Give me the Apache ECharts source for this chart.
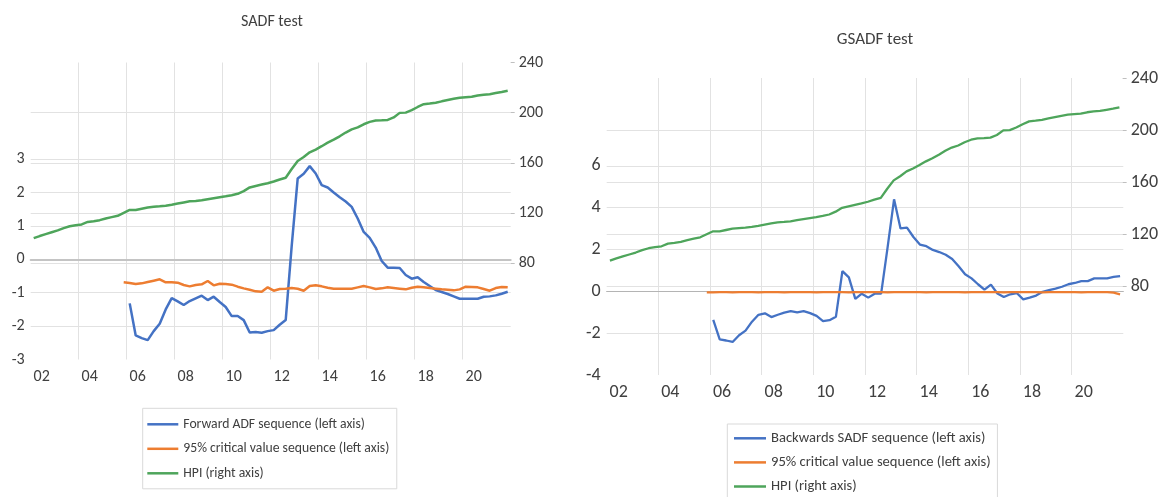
<!DOCTYPE html>
<html>
<head>
<meta charset="utf-8">
<script src="https://cdn.jsdelivr.net/npm/echarts@6/dist/echarts.min.js"></script>
<style>
html,body{margin:0;padding:0;background:#fff;}
#chart{width:1161px;height:497px;}
</style>
</head>
<body>
<div id="chart"></div>
<script>
// ---------- data ----------
const years = [2002,2003,2004,2005,2006,2007,2008,2009,2010,2011,2012,2013,2014,2015,2016,2017,2018,2019,2020,2021];
const quarterNames = ['Q1','Q2','Q3','Q4'];
const xTickLabels = ['02','04','06','08','10','12','14','16','18','20',''];

// HPI (right axis), 2002Q1 - 2021Q4
const hpi = [
  99.8, 101.5, 103.0, 104.5, 106.0, 107.8, 109.3, 110.2, 110.8, 112.8,
  113.4, 114.2, 115.5, 116.6, 117.7, 120.0, 122.3, 122.3, 123.3, 124.3,
  124.8, 125.2, 125.7, 126.5, 127.4, 128.3, 129.2, 129.5, 130.0, 130.9,
  131.7, 132.5, 133.2, 134.1, 135.2, 137.4, 140.3, 141.5, 142.6, 143.7,
  145.0, 146.6, 148.0, 155.0, 161.4, 164.6, 168.3, 170.5, 173.2, 176.0,
  178.4, 181.1, 184.1, 186.6, 188.2, 190.7, 192.6, 193.7, 193.9, 194.2,
  196.2, 199.8, 200.0, 202.0, 204.5, 206.7, 207.2, 207.9, 209.0, 210.0,
  211.0, 211.8, 212.3, 212.6, 213.7, 214.3, 214.7, 215.6, 216.5, 217.5
];
const hpiStart = '2002Q1';

// Forward ADF sequence (SADF test), 2006Q1 - 2021Q4
const forwardADF = [
  -1.32, -2.28, -2.36, -2.42, -2.15, -1.93, -1.50, -1.16, -1.26, -1.37,
  -1.25, -1.17, -1.09, -1.22, -1.12, -1.28, -1.43, -1.70, -1.70, -1.82,
  -2.19, -2.18, -2.20, -2.15, -2.12, -1.96, -1.82, 0.40, 2.42, 2.56,
  2.79, 2.57, 2.22, 2.15, 2.00, 1.86, 1.73, 1.57, 1.22, 0.82,
  0.64, 0.35, -0.05, -0.25, -0.25, -0.26, -0.47, -0.58, -0.54, -0.68,
  -0.80, -0.92, -0.98, -1.04, -1.11, -1.18, -1.18, -1.18, -1.18, -1.12,
  -1.11, -1.08, -1.03, -0.97
];
const forwardADFStart = '2006Q1';

// 95% critical value sequence (SADF test), 2005Q4 - 2021Q4
const cvSADF = [
  -0.69, -0.71, -0.74, -0.72, -0.68, -0.64, -0.60, -0.69, -0.69, -0.70,
  -0.77, -0.81, -0.77, -0.75, -0.65, -0.78, -0.73, -0.74, -0.76, -0.82,
  -0.87, -0.91, -0.96, -0.97, -0.84, -0.94, -0.89, -0.88, -0.86, -0.88,
  -0.94, -0.80, -0.78, -0.81, -0.85, -0.88, -0.88, -0.88, -0.88, -0.84,
  -0.80, -0.84, -0.89, -0.87, -0.84, -0.86, -0.88, -0.90, -0.85, -0.82,
  -0.84, -0.86, -0.88, -0.90, -0.91, -0.93, -0.90, -0.82, -0.83, -0.84,
  -0.89, -0.94, -0.86, -0.83, -0.84
];
const cvSADFStart = '2005Q4';

// Backwards SADF sequence (GSADF test), 2006Q1 - 2021Q4
const backwardSADF = [
  -1.36, -2.30, -2.35, -2.42, -2.10, -1.88, -1.45, -1.12, -1.05, -1.23,
  -1.12, -1.02, -0.95, -1.01, -0.95, -1.04, -1.17, -1.42, -1.38, -1.21,
  0.97, 0.67, -0.36, -0.11, -0.30, -0.11, -0.11, 2.10, 4.40, 3.01,
  3.05, 2.60, 2.24, 2.16, 1.98, 1.88, 1.75, 1.55, 1.20, 0.82,
  0.62, 0.34, 0.08, 0.32, -0.10, -0.27, -0.14, -0.08, -0.38, -0.30,
  -0.20, -0.02, 0.06, 0.13, 0.22, 0.34, 0.40, 0.49, 0.49, 0.62,
  0.62, 0.62, 0.69, 0.73
];
const backwardSADFStart = '2006Q1';

// 95% critical value sequence (GSADF test), 2005Q4 - 2021Q4
const cvGSADF = [
  -0.05, -0.05, -0.04, -0.04, -0.05, -0.04, -0.04, -0.04, -0.05, -0.04,
  -0.04, -0.04, -0.05, -0.04, -0.04, -0.04, -0.04, -0.05, -0.04, -0.04,
  -0.04, -0.04, -0.05, -0.04, -0.04, -0.04, -0.04, -0.04, -0.05, -0.04,
  -0.04, -0.04, -0.04, -0.04, -0.05, -0.04, -0.04, -0.04, -0.04, -0.04,
  -0.05, -0.04, -0.04, -0.04, -0.04, -0.04, -0.05, -0.04, -0.04, -0.04,
  -0.04, -0.04, -0.05, -0.04, -0.04, -0.04, -0.04, -0.04, -0.05, -0.04,
  -0.04, -0.04, -0.04, -0.06, -0.14
];
const cvGSADFStart = '2005Q4';

const leftTitle = 'SADF test';
const rightTitle = 'GSADF test';
const nameForward = 'Forward ADF sequence (left axis)';
const nameBackward = 'Backwards SADF sequence (left axis)';
const nameCV = '95% critical value sequence (left axis)';
const nameHPI = 'HPI (right axis)';

// ---------- helpers ----------
const periods = [];
years.forEach(y => quarterNames.forEach(q => periods.push(y + q)));
function periodTime(p) {            // centre of the quarter in decimal years
  const y = parseInt(p.slice(0, 4), 10);
  const q = parseInt(p.slice(5), 10);
  return y + (q - 0.5) / 4;
}
function toXY(values, start) {
  const s = periods.indexOf(start);
  return values.map((v, i) => [periodTime(periods[s + i]), v]);
}

const FONT = "Carlito, 'Roboto Condensed', 'Liberation Sans', sans-serif";
const TXT = '#404040';
const GRID = '#e2e2e2';
const NONE = 'rgba(0,0,0,0)';
const C_BLUE = '#4472C4', C_ORANGE = '#ED7D31', C_GREEN = '#4EA55B';

const xMin = 2002, xMax = 2022, xStep = 2;

function frameX(gridIndex, padLeft, fs, margin) {
  return {
    type: 'value', gridIndex, min: xMin, max: xMax, interval: xStep,
    axisLine: {show: false}, axisTick: {show: false},
    axisLabel: {
      fontFamily: FONT, fontSize: fs, color: TXT, margin,
      padding: [0, 0, 0, padLeft],
      formatter: v => xTickLabels[Math.round((v - xMin) / xStep)]
    },
    splitLine: {show: true, lineStyle: {width: 1, color: [NONE, GRID, GRID, GRID, GRID, GRID, GRID, GRID, GRID, GRID, NONE]}}
  };
}
function zeroX(gridIndex, w, col) {
  return {
    type: 'value', gridIndex, min: xMin, max: xMax, interval: xStep,
    axisLine: {show: true, onZero: true, lineStyle: {color: col, width: w}},
    axisTick: {show: false}, axisLabel: {show: false}, splitLine: {show: false}
  };
}
function hiddenX(gridIndex) {
  return {type: 'value', gridIndex, min: xMin, max: xMax, show: false};
}
function leftY(gridIndex, min, max, step, fs, colors) {
  return {
    type: 'value', gridIndex, position: 'left', min, max, interval: step,
    axisLine: {show: false}, axisTick: {show: false},
    axisLabel: {fontFamily: FONT, fontSize: fs, color: TXT, margin: 6},
    splitLine: {show: true, lineStyle: {width: 1, color: colors}}
  };
}
function rightY(gridIndex, fs) {
  return {
    type: 'value', gridIndex, position: 'right', min: 80, max: 240, interval: 40,
    axisLine: {show: false},
    axisTick: {show: true, inside: false, length: 4, lineStyle: {color: '#bfbfbf'}},
    axisLabel: {fontFamily: FONT, fontSize: fs, color: TXT, margin: 8},
    splitLine: {show: true, lineStyle: {width: 1, color: [GRID, GRID, GRID, GRID, NONE]}}
  };
}
function line(name, data, xi, yi, color, w) {
  return {
    type: 'line', name, data, xAxisIndex: xi, yAxisIndex: yi,
    showSymbol: false, symbol: 'none', lineStyle: {color, width: w}, itemStyle: {color},
    emphasis: {disabled: true}
  };
}

const L = {left: 30.7, right: 650.3};
const R = {left: 606.7, right: 37.7};

const option = {
  animation: false,
  backgroundColor: '#fff',
  title: [
    {text: leftTitle, left: 272, top: 14, padding: 0, textAlign: 'center',
     textStyle: {fontFamily: FONT, fontSize: 16, fontWeight: 'normal', color: TXT}},
    {text: rightTitle, left: 875, top: 31, padding: 0, textAlign: 'center',
     textStyle: {fontFamily: FONT, fontSize: 17, fontWeight: 'normal', color: TXT}}
  ],
  grid: [
    Object.assign({top: 62.5, bottom: 137.5}, L),
    Object.assign({top: 159.1, bottom: 137.5}, L),
    Object.assign({top: 62.5, bottom: 234}, L),
    Object.assign({top: 78, bottom: 122}, R),
    Object.assign({top: 165.9, bottom: 122}, R),
    Object.assign({top: 78, bottom: 210.6}, R)
  ],
  xAxis: [
    frameX(0, 22, 16, 9), zeroX(1, 2, '#c4c4c4'), hiddenX(2),
    frameX(3, 24, 18, 8), zeroX(4, 1.2, '#b4b4b4'), hiddenX(5)
  ],
  yAxis: [
    {type: 'value', gridIndex: 0, show: false, min: 0, max: 1},
    leftY(1, -3, 3, 1, 16, [NONE, GRID, GRID, GRID, GRID, GRID, GRID]),
    rightY(2, 16),
    {type: 'value', gridIndex: 3, show: false, min: 0, max: 1},
    leftY(4, -4, 6, 2, 18, [NONE, GRID, GRID, GRID, GRID, GRID]),
    rightY(5, 18)
  ],
  legend: [
    {
      orient: 'vertical', left: 142.7, top: 408.3, padding: [8, 7.4, 7.5, 4.6],
      itemWidth: 31, itemHeight: 2.5, itemGap: 8.5, icon: 'rect',
      borderColor: '#d9d9d9', borderWidth: 1,
      textStyle: {fontFamily: FONT, fontSize: 13.7, color: TXT, lineHeight: 16},
      data: [nameForward, nameCV, nameHPI], selectedMode: false
    },
    {
      orient: 'vertical', left: 727.3, top: 424, height: 100, padding: [5.8, 6.7, 12, 6.7],
      itemWidth: 32, itemHeight: 2.5, itemGap: 7.1, icon: 'rect',
      borderColor: '#d9d9d9', borderWidth: 1,
      textStyle: {fontFamily: FONT, fontSize: 14.6, color: TXT, lineHeight: 17},
      data: [nameBackward, nameCV, nameHPI], selectedMode: false
    }
  ],
  series: [
    line(nameForward, toXY(forwardADF, forwardADFStart), 1, 1, C_BLUE, 2.5),
    line(nameCV, toXY(cvSADF, cvSADFStart), 1, 1, C_ORANGE, 2.5),
    line(nameHPI, toXY(hpi, hpiStart), 2, 2, C_GREEN, 2.5),
    line(nameBackward, toXY(backwardSADF, backwardSADFStart), 4, 4, C_BLUE, 2.3),
    line(nameCV, toXY(cvGSADF, cvGSADFStart), 4, 4, C_ORANGE, 2.3),
    line(nameHPI, toXY(hpi, hpiStart), 5, 5, C_GREEN, 2.3)
  ]
};

const chart = echarts.init(document.getElementById('chart'), null, {renderer: 'canvas'});
chart.setOption(option);
</script>
</body>
</html>
